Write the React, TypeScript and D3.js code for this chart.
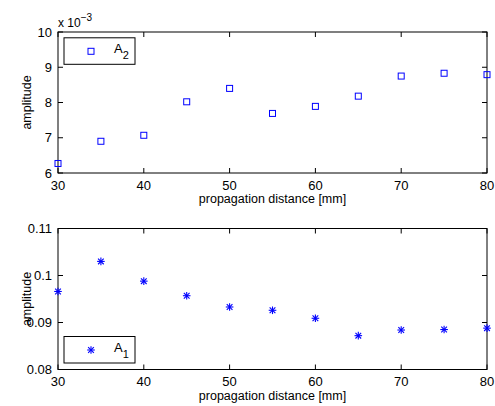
import React from "react";
import * as d3 from "d3";

const distances = [30, 35, 40, 45, 50, 55, 60, 65, 70, 75, 80];
const a2Values = [6.27, 6.9, 7.07, 8.02, 8.4, 7.69, 7.89, 8.18, 8.75, 8.83, 8.79];
const a1Values = [0.0966, 0.103, 0.0988, 0.0957, 0.0933, 0.0926, 0.0909, 0.0872, 0.0884, 0.0885, 0.0888];
const xTicks = [30, 40, 50, 60, 70, 80];
const topYTicks = [6, 7, 8, 9, 10];
const bottomYTicks = [0.08, 0.09, 0.1, 0.11];
const bottomYTickLabels = ["0.08", "0.09", "0.1", "0.11"];

const FONT = "'Liberation Sans', Arial, Helvetica, sans-serif";
const BLUE = "#0000ff";

const left = 58;
const right = 487;

type PanelProps = {
  top: number;
  bottom: number;
  yDomain: [number, number];
  yTicks: number[];
  yTickLabels: string[];
  values: number[];
  marker: "square" | "star";
  legendTop: number;
  legendLabel: string;
  legendSub: string;
  exponent?: boolean;
};

function Star({ cx, cy, r }: { cx: number; cy: number; r: number }) {
  const d = r * 0.75;
  return (
    <g stroke={BLUE} strokeWidth={1.1}>
      <line x1={cx - r} y1={cy} x2={cx + r} y2={cy} />
      <line x1={cx} y1={cy - r} x2={cx} y2={cy + r} />
      <line x1={cx - d} y1={cy - d} x2={cx + d} y2={cy + d} />
      <line x1={cx - d} y1={cy + d} x2={cx + d} y2={cy - d} />
    </g>
  );
}

function Marker({ kind, cx, cy }: { kind: "square" | "star"; cx: number; cy: number }) {
  if (kind === "square") {
    return <rect x={cx - 3} y={cy - 3} width={6} height={6} fill="none" stroke={BLUE} strokeWidth={1} />;
  }
  return <Star cx={cx} cy={cy} r={3.8} />;
}

function Panel(p: PanelProps) {
  const x = d3.scaleLinear().domain([30, 80]).range([left, right]);
  const y = d3.scaleLinear().domain(p.yDomain).range([p.bottom, p.top]);
  const tl = 5;
  const midY = (p.top + p.bottom) / 2;
  return (
    <g fontFamily={FONT} fontSize={13} fill="#000">
      {xTicks.map((t) => (
        <g key={"x" + t}>
          <line x1={x(t)} x2={x(t)} y1={p.bottom} y2={p.bottom - tl} stroke="#000" />
          <line x1={x(t)} x2={x(t)} y1={p.top} y2={p.top + tl} stroke="#000" />
          <text x={x(t)} y={p.bottom + 16.5} textAnchor="middle">{t}</text>
        </g>
      ))}
      {p.yTicks.map((t, i) => (
        <g key={"y" + t}>
          <line x1={left} x2={left + tl} y1={y(t)} y2={y(t)} stroke="#000" />
          <line x1={right} x2={right - tl} y1={y(t)} y2={y(t)} stroke="#000" />
          <text x={52} y={y(t) + 4.5} textAnchor="end">{p.yTickLabels[i]}</text>
        </g>
      ))}
      <rect x={left} y={p.top} width={right - left} height={p.bottom - p.top} fill="none" stroke="#000" strokeWidth={1} />
      {p.exponent && (
        <text x={58} y={26.5} fontSize={12}>
          x 10<tspan dy={-6} fontSize={10}>−3</tspan>
        </text>
      )}
      <text x={(left + right) / 2} y={p.bottom + 30} textAnchor="middle" fontSize={12.5}>propagation distance [mm]</text>
      <text transform={`translate(31,${midY}) rotate(-90)`} textAnchor="middle" fontSize={12.5}>amplitude</text>
      {distances.map((d, i) => (
        <Marker key={"m" + i} kind={p.marker} cx={x(d)} cy={y(p.values[i])} />
      ))}
      <rect x={64} y={p.legendTop} width={71} height={26.5} fill="#fff" stroke="#000" strokeWidth={1} />
      <Marker kind={p.marker} cx={91} cy={p.legendTop + 13.5} />
      <text x={114} y={p.legendTop + 15.5} fontSize={13}>
        {p.legendLabel}
        <tspan dy={6} fontSize={11}>{p.legendSub}</tspan>
      </text>
    </g>
  );
}

export default function App() {
  return (
    <svg width={495} height={406} style={{ position: "absolute", left: 0, top: 0, background: "#fff" }}>
      <rect width={495} height={406} fill="#fff" />
      <Panel
        top={32}
        bottom={173}
        yDomain={[6, 10]}
        yTicks={topYTicks}
        yTickLabels={topYTicks.map(String)}
        values={a2Values}
        marker="square"
        legendTop={37.8}
        legendLabel="A"
        legendSub="2"
        exponent
      />
      <Panel
        top={228.5}
        bottom={369.5}
        yDomain={[0.08, 0.11]}
        yTicks={bottomYTicks}
        yTickLabels={bottomYTickLabels}
        values={a1Values}
        marker="star"
        legendTop={336.5}
        legendLabel="A"
        legendSub="1"
      />
    </svg>
  );
}
